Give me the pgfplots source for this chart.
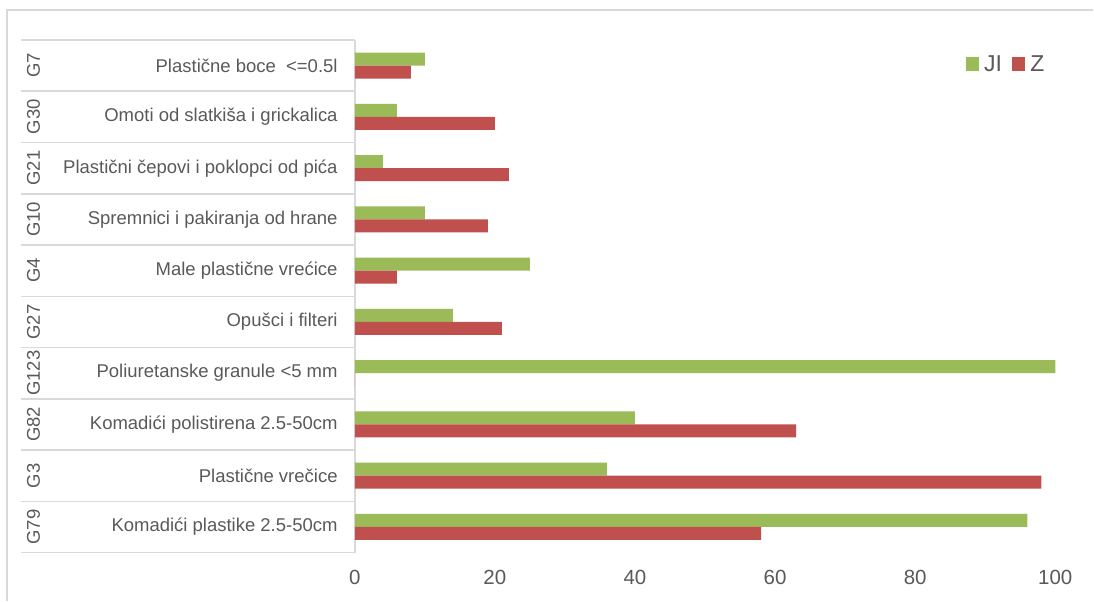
\documentclass[border=0pt]{standalone}
\usepackage{fontspec}
\setmainfont{Liberation Sans}
\usepackage{pgfplots}
\pgfplotsset{compat=1.18}

\definecolor{jigreen}{HTML}{9BBB59}
\definecolor{zred}{HTML}{C0504D}
\definecolor{txtgray}{HTML}{595959}
\definecolor{linegray}{HTML}{D9D9D9}

\newcommand{\labfont}{\fontsize{18.5}{22}\selectfont}

\begin{document}
\begin{tikzpicture}[x=1pt,y=1pt]
% page extent and chart frame
\path (0,0) rectangle (1094,601);
\draw[linegray, line width=1.5pt] (7,0) -- (7,591) -- (1094,591);

\begin{axis}[
  at={(355pt,48pt)}, anchor=south west,
  scale only axis, width=701pt, height=513pt,
  xbar, bar width=13pt,
  xmin=0, xmax=100, ymin=-0.5, ymax=9.5,
  enlargelimits=false, clip=false,
  axis line style={draw=none},
  major tick length=0pt,
  xtick={0,20,...,100},
  ytick={0,...,9},
  yticklabels={
    {Komadići plastike 2.5-50cm},
    {Plastične vrečice},
    {Komadići polistirena 2.5-50cm},
    {Poliuretanske granule <5 mm},
    {Opušci i filteri},
    {Male plastične vrećice},
    {Spremnici i pakiranja od hrane},
    {Plastični čepovi i poklopci od pića},
    {Omoti od slatkiša i grickalica},
    {Plastične boce\ \ <=0.5l}},
  /pgf/number format/assume math mode=true,
  xticklabel style={font=\fontsize{20.5}{24}\selectfont, text=txtgray,
    inner sep=0pt, anchor=north, yshift=-17pt},
  yticklabel style={font=\labfont, text=txtgray,
    inner sep=0pt, anchor=east, xshift=-17pt},
  legend style={at={(0.8716,0.953)}, anchor=west, draw=none, fill=none,
    font=\fontsize{23}{26}\selectfont, text=txtgray,
    legend columns=2, inner sep=0pt, nodes={inner sep=0pt},
    /tikz/every odd column/.append style={column sep=5pt},
    /tikz/every even column/.append style={column sep=10pt}},
  legend image code/.code={\fill[#1] (0pt,-7pt) rectangle (13.5pt,7pt);},
]
% category table: row separators and right border
\pgfplotsinvokeforeach{-0.5,0.5,1.5,2.5,3.5,4.5,5.5,6.5,7.5,8.5,9.5}{
  \draw[linegray, line width=1.5pt] ([xshift=-334pt]axis cs:0,#1) -- (axis cs:0,#1);
}
\draw[linegray, line width=1.5pt] (axis cs:0,-0.5) -- (axis cs:0,9.5);

% group codes
\node[rotate=90, font=\labfont, text=txtgray] at ([xshift=-321.5pt]axis cs:0,0) {G79};
\node[rotate=90, font=\labfont, text=txtgray] at ([xshift=-321.5pt]axis cs:0,1) {G3};
\node[rotate=90, font=\labfont, text=txtgray] at ([xshift=-321.5pt]axis cs:0,2) {G82};
\node[rotate=90, font=\labfont, text=txtgray] at ([xshift=-321.5pt]axis cs:0,3) {G123};
\node[rotate=90, font=\labfont, text=txtgray] at ([xshift=-321.5pt]axis cs:0,4) {G27};
\node[rotate=90, font=\labfont, text=txtgray] at ([xshift=-321.5pt]axis cs:0,5) {G4};
\node[rotate=90, font=\labfont, text=txtgray] at ([xshift=-321.5pt]axis cs:0,6) {G10};
\node[rotate=90, font=\labfont, text=txtgray] at ([xshift=-321.5pt]axis cs:0,7) {G21};
\node[rotate=90, font=\labfont, text=txtgray] at ([xshift=-321.5pt]axis cs:0,8) {G30};
\node[rotate=90, font=\labfont, text=txtgray] at ([xshift=-321.5pt]axis cs:0,9) {G7};

% JI
\addplot[fill=jigreen, draw=none, bar shift=6.5pt] coordinates {
  (96,0) (36,1) (40,2) (100,3) (14,4) (25,5) (10,6) (4,7) (6,8) (10,9)};
% Z
\addplot[fill=zred, draw=none, bar shift=-6.5pt] coordinates {
  (58,0) (98,1) (63,2) (0,3) (21,4) (6,5) (19,6) (22,7) (20,8) (8,9)};
\legend{JI, Z}
\end{axis}
\end{tikzpicture}
\end{document}
